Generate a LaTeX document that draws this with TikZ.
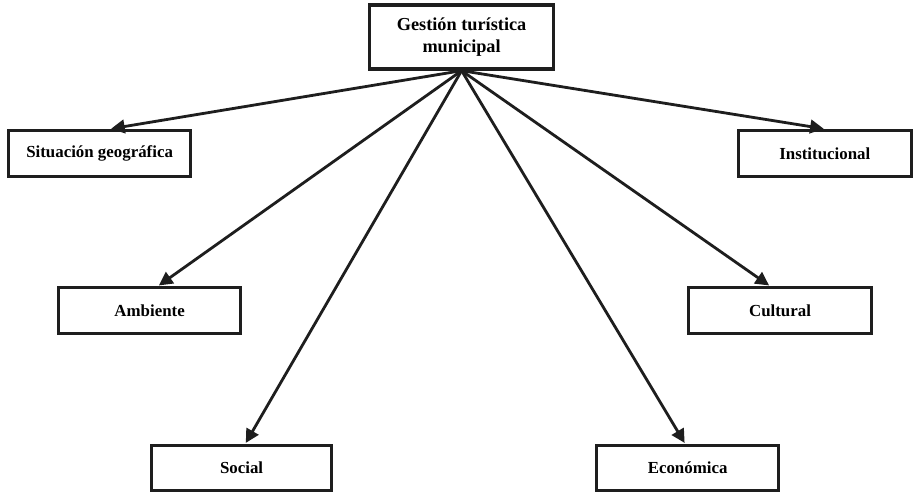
\documentclass[tikz,border=0pt]{standalone}
\usepackage{fontspec}
\setmainfont{Liberation Serif}
\usetikzlibrary{arrows.meta,calc}
\definecolor{G-dark}{RGB}{30,30,30}
\tikzset{
  headbox/.style={draw=G-dark, fill=white, line width=2.4pt, align=center, inner sep=3pt, minimum width=4.6cm, minimum height=1.6cm, font=\bfseries\fontsize{13}{15.5}\selectfont},
  factor/.style={draw=G-dark, fill=white, line width=2.4pt, align=center, inner sep=3pt, minimum height=1.15cm, font=\bfseries\fontsize{12}{14}\selectfont},
  arrow/.style={-{Triangle[length=3.4mm,width=3.4mm]}, line width=2pt, draw=G-dark, shorten >=0.8pt}
}
\begin{document}
\begin{tikzpicture}[x=1cm,y=1cm]
\useasboundingbox (0,0) rectangle (22.875,12.3);
\node[headbox] (gestion) at (11.54,11.375) {Gestión turística\\municipal};
\node[factor, minimum width=4.55cm] (geo) at (2.49,8.46) {Situación geográfica};
\node[factor, minimum width=4.33cm] (inst) at (20.62,8.46) {Institucional};
\node[factor, minimum width=4.55cm] (amb) at (3.74,4.53) {Ambiente};
\node[factor, minimum width=4.58cm] (cult) at (19.5,4.53) {Cultural};
\node[factor, minimum width=4.5cm, minimum height=1.12cm] (social) at (6.04,0.6) {Social};
\node[factor, minimum width=4.55cm, minimum height=1.12cm] (econ) at (17.19,0.6) {Económica};

\draw[arrow] (gestion.south) -- ([xshift=0.26cm]geo.north);
\draw[arrow] (gestion.south) -- (inst.north);
\draw[arrow] (gestion.south) -- ([xshift=0.21cm]amb.north);
\draw[arrow] (gestion.south) -- ([xshift=-0.25cm]cult.north);
\draw[arrow] (gestion.south) -- ([xshift=0.09cm]social.north);
\draw[arrow] (gestion.south) -- ([xshift=-0.06cm]econ.north);
\end{tikzpicture}
\end{document}
